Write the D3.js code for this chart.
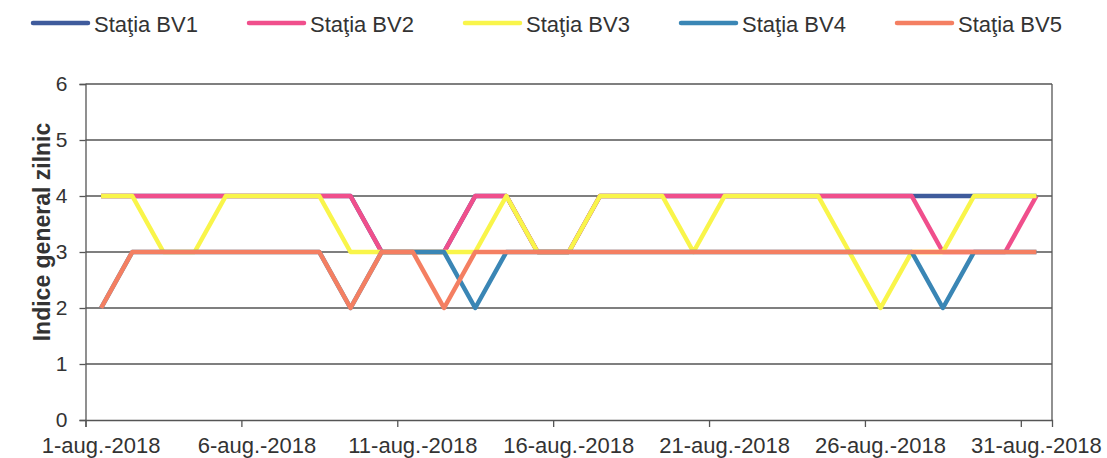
<!DOCTYPE html>
<html>
<head>
<meta charset="utf-8">
<script src="https://cdn.jsdelivr.net/npm/d3@7"></script>
<style>
  body { margin: 0; background: #fff; }
  text { font-family: Arial, "Liberation Sans", sans-serif; fill: #333; }
</style>
</head>
<body>
<script>
const width = 1107;
const height = 458;

// categories: days of August 2018
const days = [1, 2, 3, 4, 5, 6, 7, 8, 9, 10, 11, 12, 13, 14, 15, 16,
              17, 18, 19, 20, 21, 22, 23, 24, 25, 26, 27, 28, 29, 30, 31];
const labelDays = [1, 6, 11, 16, 21, 26, 31];
const tickLabels = ["1-aug.-2018", "6-aug.-2018", "11-aug.-2018", "16-aug.-2018",
                    "21-aug.-2018", "26-aug.-2018", "31-aug.-2018"];
const yTicks = [0, 1, 2, 3, 4, 5, 6];

const seriesNames = ["Staţia BV1", "Staţia BV2", "Staţia BV3", "Staţia BV4", "Staţia BV5"];
const colors = ["#3f5b9c", "#f04f8c", "#f9f54a", "#3a86b5", "#f47f62"];

const bv1 = [4,4,4,4,4,4,4,4,4,3,3,3,4,4,3,3,4,4,4,4,4,4,4,4,4,4,4,4,4,4,4];
const bv2 = [4,4,4,4,4,4,4,4,4,3,3,3,4,4,3,3,4,4,4,4,4,4,4,4,4,4,4,3,3,3,4];
const bv3 = [4,4,3,3,4,4,4,4,3,3,3,3,3,4,3,3,4,4,4,3,4,4,4,4,3,2,3,3,4,4,4];
const bv4 = [2,3,3,3,3,3,3,3,2,3,3,3,2,3,3,3,3,3,3,3,3,3,3,3,3,3,3,2,3,3,3];
const bv5 = [2,3,3,3,3,3,3,3,2,3,3,2,3,3,3,3,3,3,3,3,3,3,3,3,3,3,3,3,3,3,3];
const series = [bv1, bv2, bv3, bv4, bv5];

const plotLeft = 85.5, plotRight = 1052, plotTop = 84, plotBottom = 420;

const svg = d3.select("body")
    .append("svg")
    .attr("width", width)
    .attr("height", height);

const x = d3.scaleLinear().domain([0.5, 31.5]).range([plotLeft, plotRight]);
const y = d3.scaleLinear().domain([0, 6]).range([plotBottom, plotTop]);

// gridlines
svg.append("g")
    .selectAll("line")
    .data(yTicks.slice(1))
    .enter()
    .append("line")
    .attr("x1", plotLeft)
    .attr("x2", plotRight)
    .attr("y1", d => y(d))
    .attr("y2", d => y(d))
    .attr("stroke", "#555")
    .attr("stroke-width", 1.3);

// right border
svg.append("line")
    .attr("x1", plotRight).attr("x2", plotRight)
    .attr("y1", plotTop).attr("y2", plotBottom)
    .attr("stroke", "#555")
    .attr("stroke-width", 1.3);

// y axis
const yAxis = svg.append("g")
    .attr("transform", `translate(${plotLeft},0)`)
    .call(d3.axisLeft(y).tickValues(yTicks).tickSize(6).tickPadding(12).tickFormat(d3.format("d")));
yAxis.select(".domain").attr("stroke", "#555").attr("stroke-width", 1.3);
yAxis.selectAll(".tick line").attr("stroke", "#555").attr("stroke-width", 1.3);
yAxis.selectAll(".tick text").attr("font-size", 21).attr("fill", "#333");

// x axis: tick marks between categories
const xAxis = svg.append("g")
    .attr("transform", `translate(0,${plotBottom})`)
    .call(d3.axisBottom(x).tickValues([0.5, 5.5, 10.5, 15.5, 20.5, 25.5, 30.5]).tickSize(7).tickFormat(""));
xAxis.select(".domain").attr("stroke", "#555").attr("stroke-width", 1.3);
xAxis.selectAll(".tick line").attr("stroke", "#555").attr("stroke-width", 1.3);

// x labels centred on categories
svg.append("g")
    .selectAll("text")
    .data(labelDays)
    .enter()
    .append("text")
    .attr("x", d => x(d))
    .attr("y", 453)
    .attr("text-anchor", "middle")
    .attr("font-size", 22)
    .text((d, i) => tickLabels[i]);

// y title
svg.append("text")
    .attr("transform", "translate(50,232) rotate(-90)")
    .attr("text-anchor", "middle")
    .attr("font-size", 23)
    .attr("font-weight", "bold")
    .text("Indice general zilnic");

// lines
const line = d3.line()
    .x((d, i) => x(days[i]))
    .y(d => y(d));

svg.append("g")
    .selectAll("path")
    .data(series)
    .enter()
    .append("path")
    .attr("d", line)
    .attr("fill", "none")
    .attr("stroke", (d, i) => colors[i])
    .attr("stroke-width", 4.5)
    .attr("stroke-linejoin", "round");

// legend
const legend = svg.append("g")
    .selectAll("g")
    .data(seriesNames)
    .enter()
    .append("g")
    .attr("transform", (d, i) => `translate(${33 + i * 216},0)`);

legend.append("line")
    .attr("x1", 0).attr("x2", 55)
    .attr("y1", 23).attr("y2", 23)
    .attr("stroke", (d, i) => colors[i])
    .attr("stroke-width", 4.5)
    .attr("stroke-linecap", "round");

legend.append("text")
    .attr("x", 61)
    .attr("y", 32)
    .attr("font-size", 22)
    .text(d => d);
</script>
</body>
</html>
